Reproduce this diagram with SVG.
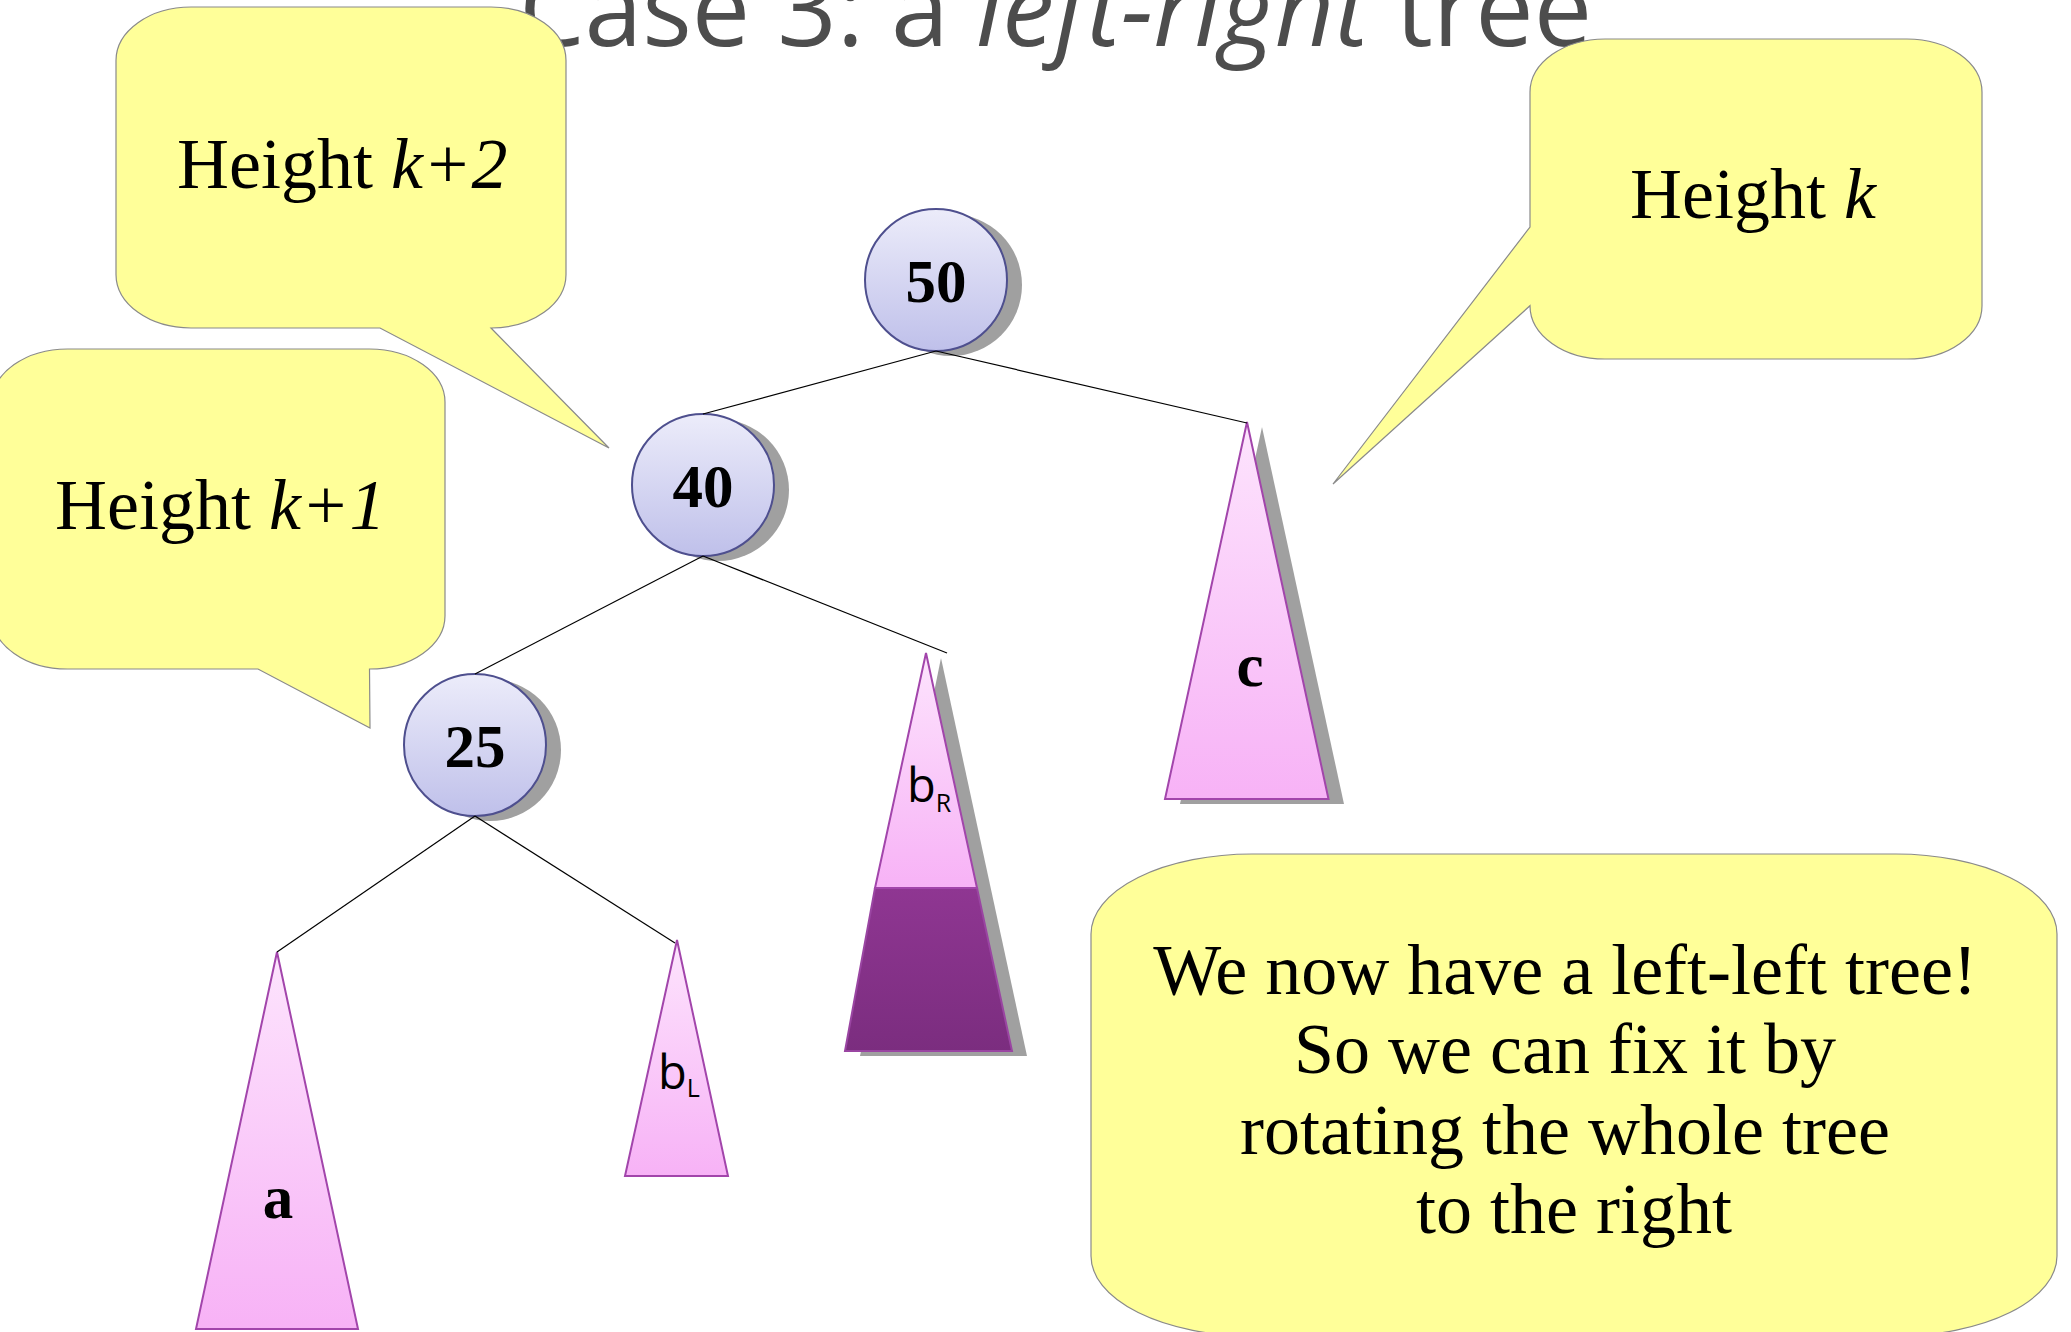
<svg xmlns="http://www.w3.org/2000/svg" width="2071" height="1332" viewBox="0 0 2071 1332">
  <defs>
    <linearGradient id="gNode" x1="0" y1="0" x2="0" y2="1">
      <stop offset="0" stop-color="#ececfa"/>
      <stop offset="1" stop-color="#bfc0ea"/>
    </linearGradient>
    <linearGradient id="gTri" x1="0" y1="0" x2="0" y2="1">
      <stop offset="0" stop-color="#fde4fd"/>
      <stop offset="1" stop-color="#f7b2f6"/>
    </linearGradient>
    <linearGradient id="gDark" x1="0" y1="0" x2="0" y2="1">
      <stop offset="0" stop-color="#8f3692"/>
      <stop offset="1" stop-color="#7b2d7f"/>
    </linearGradient>
  </defs>
  <style>
    .title { font-family: "Open Sans", "DejaVu Sans", sans-serif; font-size: 104px; fill: #4d4d4d; }
    .callout { fill: #ffff99; stroke: #8a8a8a; stroke-width: 1.2; }
    .ctext { font-family: "Liberation Serif", "DejaVu Serif", serif; font-size: 72px; fill: #000; }
    .shadow { fill: #a0a0a0; }
    .node { fill: url(#gNode); stroke: #4e4f8e; stroke-width: 2; }
    .num { font-family: "Liberation Serif", serif; font-weight: bold; font-size: 61px; fill: #000; text-anchor: middle; }
    .tri { fill: url(#gTri); stroke: #a245ab; stroke-width: 2; stroke-linejoin: miter; }
    .dark { fill: url(#gDark); stroke: #9a45a2; stroke-width: 2; }
    .sub { font-family: "Open Sans", "DejaVu Sans", sans-serif; font-size: 47px; fill: #000; }
    .edge { stroke: #000; stroke-width: 1.2; fill: none; }
  </style>

  <text id="title" class="title" x="519" y="46">Case 3: a <tspan font-style="italic">left-right</tspan> tree</text>

  <g id="node-50">
    <circle class="shadow" cx="951" cy="285" r="71"/>
    <circle class="node" cx="936" cy="280" r="71"/>
    <text class="num" x="936" y="302">50</text>
  </g>
  <g id="node-40">
    <circle class="shadow" cx="718" cy="490" r="71"/>
    <circle class="node" cx="703" cy="485" r="71"/>
    <text class="num" x="703" y="507">40</text>
  </g>
  <g id="node-25">
    <circle class="shadow" cx="490" cy="750" r="71"/>
    <circle class="node" cx="475" cy="745" r="71"/>
    <text class="num" x="475" y="767">25</text>
  </g>

  <g id="subtree-a">
    <polygon class="tri" points="277,952 358,1329 196,1329"/>
    <text class="num" x="278" y="1218">a</text>
  </g>
  <g id="subtree-bL">
    <polygon class="tri" points="677,940 728,1176 625,1176"/>
    <text class="sub" x="658" y="1089">b<tspan font-size="25" dy="8">L</tspan></text>
  </g>
  <g id="subtree-bR">
    <polygon class="shadow" points="941,658 1027,1056 860,1056"/>
    <polygon class="dark" points="875,888 977,888 1012,1051 845,1051"/>
    <polygon class="tri" points="926,653 977,888 875,888"/>
    <text class="sub" x="907" y="802">b<tspan font-size="25" dy="10">R</tspan></text>
  </g>
  <g id="subtree-c">
    <polygon class="shadow" points="1262,427 1344,804 1180,804"/>
    <polygon class="tri" points="1247,422 1328.5,799 1165,799"/>
    <text class="num" x="1250" y="686">c</text>
  </g>

  <g id="connectors">
    <line class="edge" x1="936" y1="351" x2="703" y2="414"/>
    <line class="edge" x1="936" y1="351" x2="1247" y2="423"/>
    <line class="edge" x1="703" y1="556" x2="475" y2="674"/>
    <line class="edge" x1="703" y1="556" x2="947" y2="653"/>
    <line class="edge" x1="475" y1="816" x2="277" y2="952"/>
    <line class="edge" x1="475" y1="816" x2="675" y2="943"/>
  </g>

  <g id="callout-k2">
    <path class="callout" d="M 191,7 H 491 A 75 53.5 0 0 1 566,60.5 V 274.5 A 75 53.5 0 0 1 491,328 L 609,448 L 380,328 H 191 A 75 53.5 0 0 1 116,274.5 V 60.5 A 75 53.5 0 0 1 191,7 Z"/>
    <text class="ctext" x="177" y="188">Height <tspan font-style="italic">k+2</tspan></text>
  </g>
  <g id="callout-k1">
    <path class="callout" d="M 67.5,349 H 369.5 A 75.5 53.3 0 0 1 445,402.3 V 615.7 A 75.5 53.3 0 0 1 369.5,669 L 370,728 L 258,669 H 67.5 A 75.5 53.3 0 0 1 -8,615.7 V 402.3 A 75.5 53.3 0 0 1 67.5,349 Z"/>
    <text class="ctext" x="55" y="529">Height <tspan font-style="italic">k+1</tspan></text>
  </g>
  <g id="callout-k">
    <path class="callout" d="M 1605,39 H 1907 A 75 53.3 0 0 1 1982,92.3 V 305.7 A 75 53.3 0 0 1 1907,359 H 1605 A 75 53.3 0 0 1 1530,305.7 L 1333,484 L 1530,227 V 92.3 A 75 53.3 0 0 1 1605,39 Z"/>
    <text class="ctext" x="1630" y="218">Height <tspan font-style="italic">k</tspan></text>
  </g>
  <g id="callout-note">
    <rect class="callout" x="1091" y="854" width="966" height="482" rx="161" ry="80"/>
    <text class="ctext" text-anchor="middle">
      <tspan x="1574" y="994">We now have a left-left tree!</tspan>
      <tspan x="1574" y="1073">So we can fix it by</tspan>
      <tspan x="1574" y="1154">rotating the whole tree</tspan>
      <tspan x="1574" y="1233">to the right</tspan>
    </text>
  </g>
</svg>
